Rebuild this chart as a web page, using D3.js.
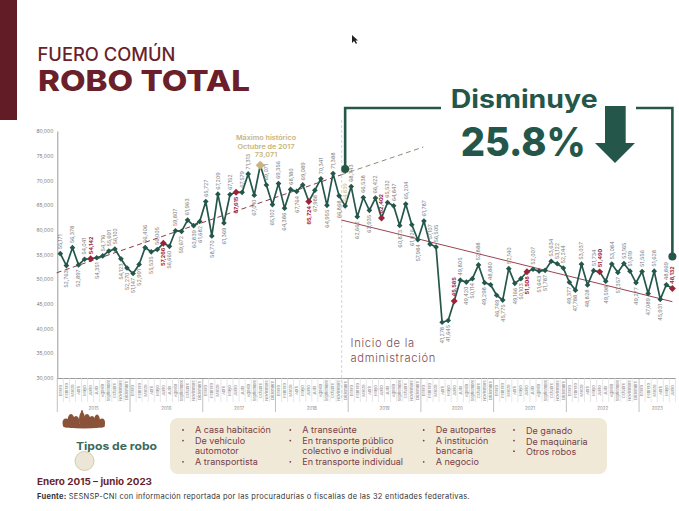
<!DOCTYPE html>
<html>
<head>
<meta charset="utf-8">
<script src="https://cdn.jsdelivr.net/npm/d3@7"></script>
<style>
html, body { margin: 0; padding: 0; background: #fff; }
svg { display: block; font-family: Inter, "Open Sans", sans-serif; }
</style>
</head>
<body>
<div id="container"></div>
<script>
const monthNames = ["Enero", "Febrero", "Marzo", "Abril", "Mayo", "Junio", "Julio", "Agosto", "Septiembre", "Octubre", "Noviembre", "Diciembre"];
const years = [2015, 2016, 2017, 2018, 2019, 2020, 2021, 2022, 2023];
const yTicks = [30000, 35000, 40000, 45000, 50000, 55000, 60000, 65000, 70000, 75000, 80000];

const robos = [
    55171, 52763, 56378, 52897, 54041, 54142, 54351, 54716, 55691, 56102, 54123, 52270,
    51147, 52991, 56406, 55535, 56005, 57266, 56660, 59807, 59672, 61963, 60839, 61682,
    65727, 58770, 67209, 61369, 67152, 67615, 67579, 71313, 67010, 73071, 69071, 65102,
    69356, 64386, 68180, 67764, 69089, 65724, 67988, 70341, 64955, 71388, 66868, 64839,
    68743, 62662, 66538, 63935, 66422, 62402, 65532, 64847, 60873, 65204, 61026, 57984,
    61787, 57107, 56505, 41278, 41645, 45585, 49805, 49420, 50114, 52888, 49298, 48880,
    46749, 45775, 52140, 49166, 50103, 51508, 52007, 51643, 51787, 53634, 53122, 52244,
    49377, 47788, 53037, 48828, 51734, 51490, 49598, 53084, 51357, 53165, 51619, 49277,
    51556, 47089, 51628, 45931, 48869, 48132
];
const junios = [5, 17, 29, 41, 53, 65, 77, 89, 101];
const maximoIdx = 33;
const inicioIdx = 47;

const tendenciaAntes = [[-0.6, 51300], [46.4, 71150]];
const tendenciaDespues = [[46.4, 71150], [59.9, 76760]];
const tendenciaActual = [[46.4, 61980], [101, 45450]];

const tipos = [
    ["A casa habitación", "De vehículo|automotor", "A transportista"],
    ["A transeúnte", "En transporte público|colectivo e individual", "En transporte individual"],
    ["De autopartes", "A institución|bancaria", "A negocio"],
    ["De ganado", "De maquinaria", "Otros robos"]
];

// which labels hang under their point
const debajo = new Set([1, 3, 6, 10, 11, 12, 13, 15, 17, 18, 20, 22, 23, 25, 27, 29, 32, 35, 37, 39, 41, 42, 44, 46,
    49, 51, 56, 58, 59, 63, 64, 67, 68, 70, 72, 73, 75, 76, 77, 79, 80, 84, 85, 87, 90, 92, 95, 97, 99]);

const verde = "#24574a", vino = "#6b1f2a", rojo = "#9b2339", oro = "#c8b47c", gris = "#7c7c7c";
const fmt = d3.format(",");

let svg = d3.select("#container").append("svg")
    .attr("width", 679)
    .attr("height", 511);

// the reference face is wider than anything installed, so stretch to the measured width
function fit(sel, width) {
    sel.attr("textLength", width).attr("lengthAdjust", "spacingAndGlyphs");
    return sel;
}
function widen(sel, k) {
    sel.each(function() {
        d3.select(this).attr("textLength", this.getComputedTextLength() * k).attr("lengthAdjust", "spacingAndGlyphs");
    });
    return sel;
}

// header
svg.append("rect").attr("width", 17).attr("height", 120).attr("fill", "#611c26");
fit(svg.append("text").attr("x", 37.5).attr("y", 61).attr("font-size", 18).attr("font-weight", 500)
    .attr("fill", vino).text("FUERO COMÚN"), 138);
fit(svg.append("text").attr("x", 38).attr("y", 91).attr("font-size", 29).attr("font-weight", 800)
    .attr("fill", vino).text("ROBO TOTAL"), 212);

let step = 6.06;
let x = d3.scaleBand()
    .domain(d3.range(robos.length))
    .range([57.3, 57.3 + step * robos.length]);
let cx = function(i) { return x.range()[0] + (i + 0.5) * x.step(); };

let y = d3.scaleLinear()
    .domain([30000, 80000])
    .range([378, 131]);

// y axis
let yAxis = svg.append("g")
    .attr("transform", "translate(57.3,0)")
    .call(d3.axisLeft(y).tickValues(yTicks).tickFormat(fmt).tickSize(0).tickPadding(4));
yAxis.select(".domain").attr("stroke", "#9a9a9a");
yAxis.selectAll("text").attr("font-size", 5).attr("fill", gris).attr("font-family", "Inter, sans-serif");

// x axis, months then years
let periodos = years.flatMap(function() { return monthNames; }).slice(0, robos.length);
let xAxis = svg.append("g")
    .attr("transform", "translate(0,378)")
    .call(d3.axisBottom(x).tickSize(0).tickFormat(function(i) { return periodos[i]; }));
xAxis.select(".domain").attr("stroke", "#9a9a9a");
xAxis.selectAll("text")
    .attr("font-size", 4).attr("fill", "#8a8a8a").attr("font-family", "Inter, sans-serif")
    .attr("text-anchor", "middle").attr("dy", "0.35em")
    .attr("transform", "translate(0,12.5) rotate(-90)").attr("y", 0).attr("x", 0);

svg.append("g").selectAll("line")
    .data(d3.range(robos.length + 1))
    .enter().append("line")
    .attr("x1", function(i) { return x.range()[0] + i * x.step(); })
    .attr("x2", function(i) { return x.range()[0] + i * x.step(); })
    .attr("y1", 378)
    .attr("y2", function(i) { return i % 12 == 0 ? 412 : 402; })
    .attr("stroke", function(i) { return i % 12 == 0 ? "#a5a5a5" : "#dcdcdc"; })
    .attr("stroke-width", 0.7);

svg.append("g").selectAll("text")
    .data(years)
    .enter().append("text")
    .attr("x", function(d, i) { return x.range()[0] + (i * 12 + (d == 2023 ? 3 : 6)) * x.step(); })
    .attr("y", 410)
    .attr("text-anchor", "middle")
    .attr("font-size", 4.5)
    .attr("fill", "#8a8a8a")
    .text(function(d) { return d; });

// start of administration
svg.append("line")
    .attr("x1", 341.7).attr("x2", 341.7).attr("y1", 120).attr("y2", 400)
    .attr("stroke", "#d4d4d4").attr("stroke-dasharray", "3,2");

// trends
let trendLine = d3.line()
    .x(function(d) { return cx(d[0]); })
    .y(function(d) { return y(d[1]); });
svg.append("path").attr("d", trendLine(tendenciaAntes))
    .attr("fill", "none").attr("stroke", "#8a3a48").attr("stroke-width", 1).attr("stroke-dasharray", "5,3.5");
svg.append("path").attr("d", trendLine(tendenciaDespues))
    .attr("fill", "none").attr("stroke", "#8f8a78").attr("stroke-width", 1).attr("stroke-dasharray", "5,3.5");
svg.append("path").attr("d", trendLine(tendenciaActual))
    .attr("fill", "none").attr("stroke", "#9b4352").attr("stroke-width", 1);

// series
let line = d3.line()
    .x(function(d, i) { return cx(i); })
    .y(function(d) { return y(d); });
svg.append("path").datum(robos).attr("d", line)
    .attr("fill", "none").attr("stroke", verde).attr("stroke-width", 1.7).attr("stroke-linejoin", "round");

let puntos = robos.map(function(v, i) { return {v: v, i: i}; });
let esJunio = function(d) { return junios.includes(d.i); };

let square = d3.symbol().type(d3.symbolSquare);
svg.append("g").selectAll("path")
    .data(puntos)
    .enter().append("path")
    .attr("transform", function(d) { return "translate(" + cx(d.i) + "," + y(d.v) + ") rotate(45)"; })
    .attr("d", function(d) { return square.size(d.i == maximoIdx ? 42 : esJunio(d) ? 24 : 16)(); })
    .attr("fill", function(d) { return d.i == maximoIdx ? oro : esJunio(d) ? rojo : verde; });

// rotated value labels
svg.append("g").selectAll("text")
    .data(puntos.filter(function(d) { return d.i != maximoIdx; }))
    .enter().append("text")
    .attr("transform", function(d) {
        return "translate(" + cx(d.i) + "," + (y(d.v) + (debajo.has(d.i) ? 4.5 : -4.5)) + ") rotate(-90)";
    })
    .attr("dy", "0.35em")
    .attr("text-anchor", function(d) { return debajo.has(d.i) ? "end" : "start"; })
    .attr("font-size", 5.4)
    .attr("font-weight", function(d) { return esJunio(d) ? 700 : 400; })
    .attr("fill", function(d) { return esJunio(d) ? rojo : d.i == inicioIdx ? oro : gris; })
    .text(function(d) { return fmt(d.v); });

// historic max
["Máximo histórico", "Octubre de 2017", fmt(robos[maximoIdx])].forEach(function(t, i) {
    widen(svg.append("text")
        .attr("x", 266).attr("y", 140 + i * 8.5)
        .attr("text-anchor", "middle").attr("font-size", 6.4).attr("font-weight", 600).attr("fill", oro)
        .text(t), 1.13);
});

svg.append("text").attr("font-size", 11.2).attr("font-weight", 300).attr("fill", "#7d4d55").attr("letter-spacing", 0.7)
    .selectAll("tspan").data(["Inicio de la", "administración"])
    .enter().append("tspan")
    .attr("x", 350.5)
    .attr("y", function(d, i) { return 347 + i * 14.5; })
    .text(function(d) { return d; });

// callout
let bracketY = 108;
let x0 = cx(inicioIdx), x1 = cx(robos.length - 1);
svg.append("path")
    .attr("d", "M" + x0 + "," + y(72300) + "V" + bracketY + "H441")
    .attr("fill", "none").attr("stroke", verde).attr("stroke-width", 2.6);
svg.append("path")
    .attr("d", "M636," + bracketY + "H" + x1 + "V" + y(54600))
    .attr("fill", "none").attr("stroke", verde).attr("stroke-width", 2.6);
svg.append("circle").attr("cx", x0).attr("cy", y(72300)).attr("r", 4).attr("fill", verde);
svg.append("circle").attr("cx", x1).attr("cy", y(54600)).attr("r", 4).attr("fill", verde);
fit(svg.append("text").attr("x", 450.7).attr("y", 108).attr("font-size", 25).attr("font-weight", 700)
    .attr("fill", verde).text("Disminuye"), 147);
fit(svg.append("text").attr("x", 460.7).attr("y", 156).attr("font-size", 40).attr("font-weight", 800)
    .attr("fill", verde).text("25.8%"), 125);
svg.append("path")
    .attr("d", "M605,106H625.7V143H635L615,163L595,143H605Z")
    .attr("fill", verde);

// tipos de robo
let emblem = svg.append("g").attr("fill", "#8a5238");
[[84, 426, 21, 2.5], [66, 423, 3.5, 4.5], [71, 421, 3.5, 7], [76, 422, 3.5, 6], [82, 420, 3, 8], [82, 414, 1.2, 4], [87, 421, 3.5, 7], [92, 422, 3.5, 6], [97, 421, 3, 6.5], [102, 423, 3, 4.5]]
    .forEach(function(e) {
        emblem.append("ellipse").attr("cx", e[0]).attr("cy", e[1]).attr("rx", e[2]).attr("ry", e[3]);
    });
svg.append("circle").attr("cx", 84.5).attr("cy", 461).attr("r", 9.5)
    .attr("fill", "#ece6d6").attr("stroke", "#d5cbb2").attr("stroke-width", 1);
fit(svg.append("text").attr("x", 76).attr("y", 449.5).attr("font-size", 10.8).attr("font-weight", 700)
    .attr("fill", "#3b6a5c").text("Tipos de robo"), 81);

svg.append("rect")
    .attr("x", 170).attr("y", 418).attr("width", 437).attr("height", 56).attr("rx", 8)
    .attr("fill", "#f1e9d8");

let colX = [195, 302.3, 435.7, 526];
tipos.forEach(function(col, c) {
    let row = 0;
    col.forEach(function(item) {
        svg.append("circle")
            .attr("cx", colX[c] - 12).attr("cy", 430 + row * 10.6).attr("r", 0.9).attr("fill", "#7b4047");
        item.split("|").forEach(function(t) {
            widen(svg.append("text")
                .attr("x", colX[c]).attr("y", 433.2 + row * 10.6 + (c == 3 ? 0.8 : 0))
                .attr("font-size", 8.3).attr("fill", "#7b4047")
                .text(t), 1.09);
            row++;
        });
    });
});

fit(svg.append("text").attr("x", 37).attr("y", 485).attr("font-size", 9.2).attr("font-weight", 700)
    .attr("fill", vino).text("Enero 2015 – junio 2023"), 115);
let fuente = svg.append("text").attr("x", 37).attr("y", 499.3).attr("font-size", 7.5).attr("letter-spacing", 0.28).attr("fill", "#333");
fuente.append("tspan").attr("font-weight", 700).text("Fuente: ");
fuente.append("tspan").text("SESNSP-CNI con información reportada por las procuradurías o fiscalías de las 32 entidades federativas.");

// mouse pointer in the screenshot
svg.append("path").attr("d", "M352,35V43L354,41L356,44L357,43L355.5,40.5H358Z").attr("fill", "#222");
</script>
</body>
</html>
